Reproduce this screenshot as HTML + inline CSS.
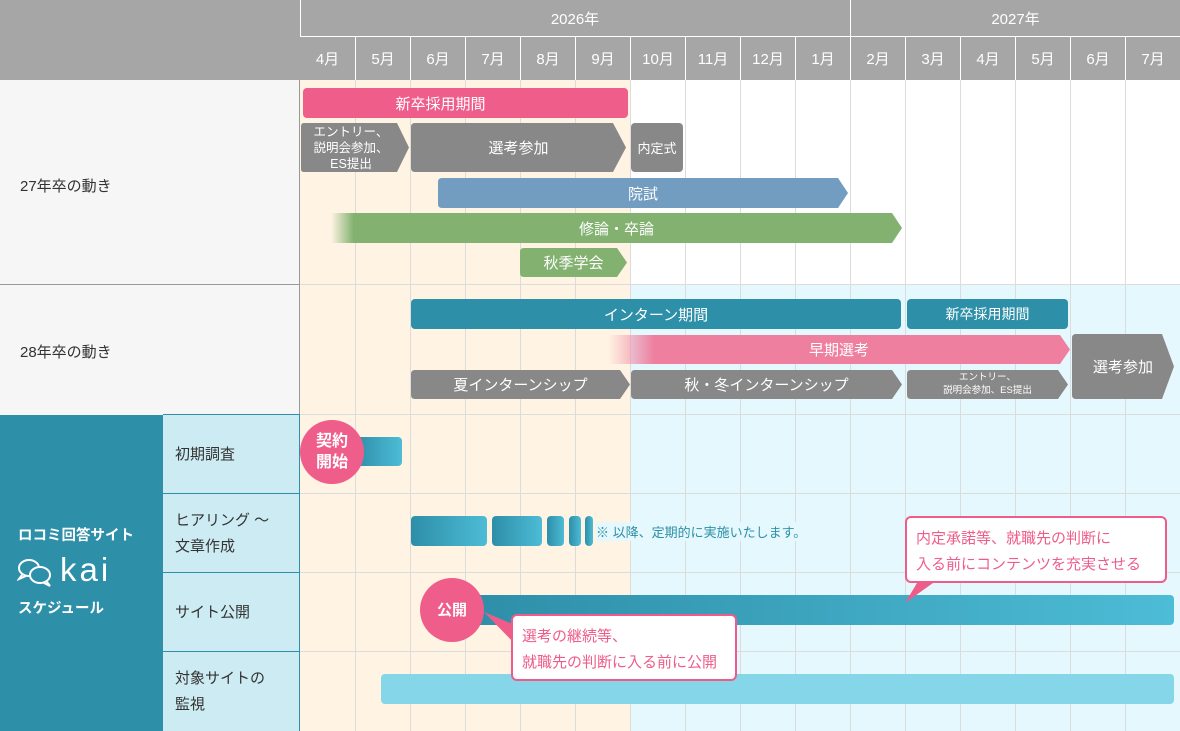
<!DOCTYPE html>
<html><head><meta charset="utf-8"><style>
*{margin:0;padding:0;box-sizing:border-box}
body{width:1180px;height:731px;position:relative;overflow:hidden;background:#fff;font-family:"Liberation Sans","Noto Sans CJK JP",sans-serif}
.a{position:absolute}
.hd{background:#a6a6a6;color:#fff;font-size:15px;display:flex;align-items:center;justify-content:center}
.bar{position:absolute;color:#fff;font-size:15px;display:flex;align-items:center;justify-content:center;border-radius:4px}
.lbl{position:absolute;font-size:15px;color:#333;display:flex;align-items:center}
.sub{position:absolute;left:163px;width:137px;background:#cdebf3;border-top:1px solid #2d8fa8;font-size:15px;color:#333;padding-left:12px;display:flex;align-items:center;line-height:26px}
.grad{background:linear-gradient(90deg,#2e8ea8,#4dbcd6)}
.call{position:absolute;background:#fff;border:2px solid #ee5d8a;border-radius:6px;color:#ee5d8a;font-size:15px;line-height:26px;padding:8px 0 0 9px}
.circ{position:absolute;border-radius:50%;background:#ef5d8a;color:#fff;font-weight:bold;display:flex;align-items:center;justify-content:center;text-align:center;line-height:21px;font-size:16px}
</style></head><body>
<div class="a" style="left:300px;top:80px;width:330px;height:651px;background:#fff4e3"></div>
<div class="a" style="left:630px;top:285px;width:550px;height:446px;background:#e4f8fd"></div>
<div class="a" style="left:0;top:0;width:300px;height:80px;background:#a6a6a6"></div>
<div class="a" style="left:0;top:80px;width:300px;height:335px;background:#f6f6f6;border-right:1px solid #999"></div>
<div class="a" style="left:0;top:284px;width:300px;height:1px;background:#999"></div>
<svg class="a" style="left:0;top:0" width="1180" height="731">
<g stroke="#dcdcdc" stroke-width="1">
<line x1="355.5" y1="80" x2="355.5" y2="731"/><line x1="410.5" y1="80" x2="410.5" y2="731"/><line x1="465.5" y1="80" x2="465.5" y2="731"/><line x1="520.5" y1="80" x2="520.5" y2="731"/><line x1="575.5" y1="80" x2="575.5" y2="731"/><line x1="630.5" y1="80" x2="630.5" y2="731"/><line x1="685.5" y1="80" x2="685.5" y2="731"/><line x1="740.5" y1="80" x2="740.5" y2="731"/><line x1="795.5" y1="80" x2="795.5" y2="731"/><line x1="850.5" y1="80" x2="850.5" y2="731"/><line x1="905.5" y1="80" x2="905.5" y2="731"/><line x1="960.5" y1="80" x2="960.5" y2="731"/><line x1="1015.5" y1="80" x2="1015.5" y2="731"/><line x1="1070.5" y1="80" x2="1070.5" y2="731"/><line x1="1125.5" y1="80" x2="1125.5" y2="731"/>
<line x1="300" y1="284.5" x2="1180" y2="284.5"/><line x1="300" y1="414.5" x2="1180" y2="414.5"/><line x1="300" y1="493.5" x2="1180" y2="493.5"/><line x1="300" y1="572.5" x2="1180" y2="572.5"/><line x1="300" y1="651.5" x2="1180" y2="651.5"/>
</g></svg>
<div class="a hd" style="left:300px;top:0;width:550px;height:36px">2026年</div>
<div class="a hd" style="left:851px;top:0;width:329px;height:36px">2027年</div>
<div class="a" style="left:300px;top:0;width:1px;height:80px;background:#fff"></div>
<div class="a" style="left:850px;top:0;width:1px;height:36px;background:#fff"></div>
<div class="a" style="left:300px;top:36px;width:880px;height:1px;background:#fff"></div>
<div class="a" style="left:300px;top:37px;width:880px;height:43px;display:flex">
<div class="hd" style="width:55px">4月</div><div class="hd" style="width:55px;border-left:1px solid #fff">5月</div><div class="hd" style="width:55px;border-left:1px solid #fff">6月</div><div class="hd" style="width:55px;border-left:1px solid #fff">7月</div><div class="hd" style="width:55px;border-left:1px solid #fff">8月</div><div class="hd" style="width:55px;border-left:1px solid #fff">9月</div><div class="hd" style="width:55px;border-left:1px solid #fff">10月</div><div class="hd" style="width:55px;border-left:1px solid #fff">11月</div><div class="hd" style="width:55px;border-left:1px solid #fff">12月</div><div class="hd" style="width:55px;border-left:1px solid #fff">1月</div><div class="hd" style="width:55px;border-left:1px solid #fff">2月</div><div class="hd" style="width:55px;border-left:1px solid #fff">3月</div><div class="hd" style="width:55px;border-left:1px solid #fff">4月</div><div class="hd" style="width:55px;border-left:1px solid #fff">5月</div><div class="hd" style="width:55px;border-left:1px solid #fff">6月</div><div class="hd" style="width:55px;border-left:1px solid #fff">7月</div>
</div>
<div class="lbl" style="left:20px;top:174px;height:22px">27年卒の動き</div>
<div class="lbl" style="left:20px;top:340px;height:22px">28年卒の動き</div>
<div class="bar" style="left:303px;top:88px;width:325px;height:30px;background:#ef5d8a;padding-right:50px">新卒採用期間</div>
<svg class="a" style="left:0;top:0" width="1180" height="415">
<defs><linearGradient id="gf" x1="0" x2="1"><stop offset="0" stop-color="#82b170" stop-opacity="0"/><stop offset="0.04" stop-color="#82b170"/></linearGradient>
<linearGradient id="pf" x1="0" x2="1"><stop offset="0" stop-color="#ee7f9f" stop-opacity="0"/><stop offset="0.1" stop-color="#ee7f9f"/></linearGradient></defs>
<path d="M304 123H397L409 147.5L397 172H304Q301 172 301 169V126Q301 123 304 123Z" fill="#888"/>
<path d="M415 123H613L626 147.5L613 172H415Q411 172 411 168V127Q411 123 415 123Z" fill="#888"/>
<rect x="631" y="123" width="52" height="49" rx="4" fill="#888"/>
<path d="M442 178H838L848 193L838 208H442Q438 208 438 204V182Q438 178 442 178Z" fill="#729dc1"/>
<path d="M331 213H892L902 228L892 243H331Z" fill="url(#gf)"/>
<path d="M524 248H617L627 262.5L617 277H524Q520 277 520 273V252Q520 248 524 248Z" fill="#82b170"/>
<path d="M608 335H1060L1070 349.5L1060 364H608Z" fill="url(#pf)"/>
<path d="M415 370H620L630 384.5L620 399H415Q411 399 411 395V374Q411 370 415 370Z" fill="#888"/>
<path d="M635 370H892L902 384.5L892 399H635Q631 399 631 395V374Q631 370 635 370Z" fill="#888"/>
<path d="M911 370H1058L1068 384.5L1058 399H911Q907 399 907 395V374Q907 370 911 370Z" fill="#888"/>
<path d="M1076 334H1162L1174 366.5L1162 399H1076Q1072 399 1072 395V338Q1072 334 1076 334Z" fill="#888"/>
</svg>
<div class="a" style="left:301px;top:124px;width:100px;text-align:center;color:#fff;font-size:12.5px;line-height:16px">エントリー、<br>説明会参加、<br>ES提出</div>
<div class="bar" style="left:411px;top:123px;width:215px;height:49px">選考参加</div>
<div class="bar" style="left:631px;top:123px;width:52px;height:49px;font-size:13px">内定式</div>
<div class="bar" style="left:438px;top:178px;width:410px;height:30px">院試</div>
<div class="bar" style="left:331px;top:213px;width:571px;height:30px">修論・卒論</div>
<div class="bar" style="left:520px;top:248px;width:107px;height:29px">秋季学会</div>
<div class="bar" style="left:411px;top:299px;width:490px;height:30px;background:#2d8fa8">インターン期間</div>
<div class="bar" style="left:907px;top:299px;width:161px;height:30px;background:#2d8fa8;font-size:14px">新卒採用期間</div>
<div class="bar" style="left:608px;top:335px;width:462px;height:29px">早期選考</div>
<div class="bar" style="left:411px;top:370px;width:219px;height:29px">夏インターンシップ</div>
<div class="bar" style="left:631px;top:370px;width:271px;height:29px">秋・冬インターンシップ</div>
<div class="a" style="left:907px;top:371px;width:161px;text-align:center;color:#fff;font-size:9.5px;line-height:13px">エントリー、<br>説明会参加、ES提出</div>
<div class="bar" style="left:1072px;top:334px;width:102px;height:65px">選考参加</div>
<div class="a" style="left:0;top:415px;width:163px;height:316px;background:#2d8fa8"></div>
<div class="a" style="left:18px;top:524px;color:#fff;font-weight:bold;font-size:14.5px">ロコミ回答サイト</div>
<svg class="a" style="left:17px;top:557px" width="40" height="32"><g fill="none" stroke="#fff" stroke-width="2"><ellipse cx="12" cy="11" rx="10" ry="8"/><path d="M5 18L2 22L9 19"/><ellipse cx="23" cy="18" rx="10" ry="8" fill="#2d8fa8"/><path d="M30 25L33 29L27 26"/></g></svg>
<div class="a" style="left:60px;top:550px;color:#fff;font-size:33px;letter-spacing:3px;line-height:40px">kai</div>
<div class="a" style="left:18px;top:597px;color:#fff;font-weight:bold;font-size:14.5px">スケジュール</div>
<div class="sub" style="top:414px;height:80px">初期調査</div>
<div class="sub" style="top:493px;height:80px">ヒアリング 〜<br>文章作成</div>
<div class="sub" style="top:572px;height:80px">サイト公開</div>
<div class="sub" style="top:651px;height:80px">対象サイトの<br>監視</div>
<div class="a" style="left:299px;top:414px;width:1px;height:317px;background:#2d8fa8"></div>
<div class="a grad" style="left:355px;top:437px;width:47px;height:29px;border-radius:4px"></div>
<div class="circ" style="left:300px;top:420px;width:64px;height:64px">契約<br>開始</div>
<div class="a grad" style="left:411px;top:516px;width:76px;height:30px;border-radius:4px"></div>
<div class="a grad" style="left:492px;top:516px;width:50px;height:30px;border-radius:4px"></div>
<div class="a grad" style="left:547px;top:516px;width:17px;height:30px;border-radius:4px"></div>
<div class="a grad" style="left:569px;top:516px;width:12px;height:30px;border-radius:4px"></div>
<div class="a grad" style="left:585px;top:516px;width:8px;height:30px;border-radius:4px"></div>
<div class="a" style="left:596px;top:522px;font-size:13px;color:#2d8fa8;background:#e4f8fd">※ 以降、定期的に実施いたします。</div>
<div class="a" style="left:465px;top:595px;width:709px;height:30px;border-radius:4px;background:linear-gradient(90deg,#2e8ea8,#4dbcd6)"></div>
<div class="circ" style="left:420px;top:578px;width:64px;height:64px;font-size:15px">公開</div>
<div class="a" style="left:381px;top:674px;width:793px;height:30px;border-radius:4px;background:#86d6ea"></div>
<svg class="a" style="left:0;top:0" width="1180" height="731"><path d="M484 612L522 628L516 645Z" fill="#ee5d8a"/><path d="M905 603L920 578L940 578Z" fill="#ee5d8a"/></svg>
<div class="call" style="left:511px;top:614px;width:226px;height:67px">選考の継続等、<br>就職先の判断に入る前に公開</div>
<div class="call" style="left:905px;top:516px;width:262px;height:67px">内定承諾等、就職先の判断に<br>入る前にコンテンツを充実させる</div>
</body></html>
